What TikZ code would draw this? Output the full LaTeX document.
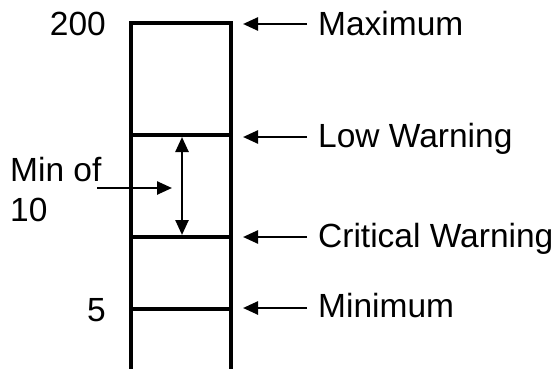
\documentclass[tikz,border=0pt]{standalone}
\usepackage{fontspec}
\setmainfont{Liberation Sans}
\usetikzlibrary{arrows.meta}
\tikzset{
  label text/.style={font=\fontsize{33.5}{40}\selectfont, inner sep=0pt},
  pointer/.style={line width=2.5pt, -{Triangle[length=15pt, width=13pt]}},
  both pointer/.style={line width=2.5pt, {Triangle[length=15pt, width=13pt]}-{Triangle[length=15pt, width=13pt]}},
}
\begin{document}
\begin{tikzpicture}[x=1pt, y=-1pt]
    \useasboundingbox (0,0) rectangle (559,369);

    % Column (open at the bottom)
    \draw[line width=4pt] (131,372) -- (131,23) -- (231,23) -- (231,372);
    \draw[line width=4pt] (131,135) -- (231,135);
    \draw[line width=4pt] (131,237) -- (231,237);
    \draw[line width=4pt] (131,309) -- (231,309);

    % Values on the left
    \node[label text, anchor=base east] (top) at (106,36) {200};
    \node[label text, anchor=base east] (five) at (106,321) {5};
    \node[label text, anchor=north west, align=left] (minof) at (10,157) {Min of\\10};

    % Levels on the right
    \node[label text, anchor=base west] (maximum) at (318,36) {Maximum};
    \node[label text, anchor=base west] (low) at (318,147) {Low Warning};
    \node[label text, anchor=base west] (critical) at (318,247) {Critical Warning};
    \node[label text, anchor=base west] (minimum) at (318,317) {Minimum};

    % Arrow tips at the column
    \coordinate (maxTip) at (243,24);
    \coordinate (lowTip) at (243,137);
    \coordinate (critTip) at (243,237);
    \coordinate (minTip) at (243,308);

    \draw[pointer] ([xshift=-11pt]maximum.west |- maxTip) -- (maxTip);
    \draw[pointer] ([xshift=-11pt]low.west |- lowTip) -- (lowTip);
    \draw[pointer] ([xshift=-11pt]critical.west |- critTip) -- (critTip);
    \draw[pointer] ([xshift=-11pt]minimum.west |- minTip) -- (minTip);

    % Span between low and critical
    \coordinate (spanTop) at (182,137);
    \coordinate (spanBottom) at (182,235);
    \draw[both pointer] (spanTop) -- (spanBottom);

    \coordinate (minTail) at (97,188);
    \coordinate (spanMid) at (172,188);
    \draw[pointer] (minTail) -- (spanMid);
\end{tikzpicture}
\end{document}
